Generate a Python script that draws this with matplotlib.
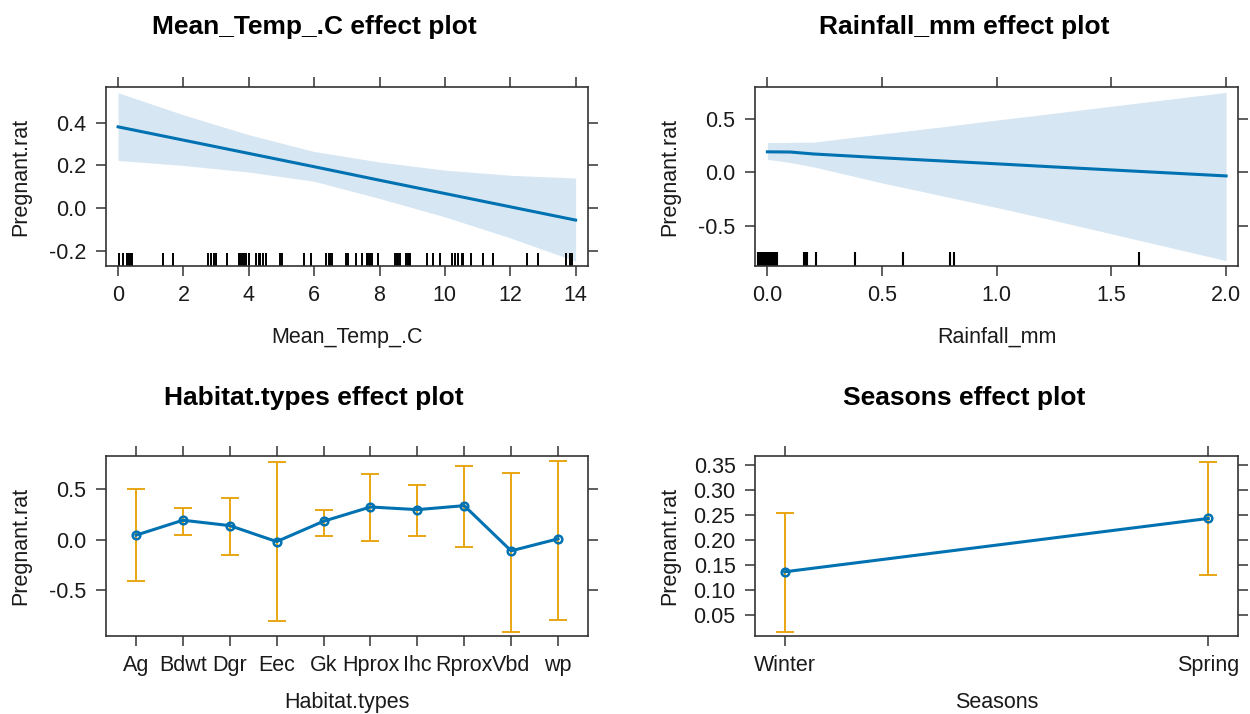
import matplotlib
matplotlib.use("Agg")
import matplotlib.pyplot as plt
import numpy as np

plt.rcParams['font.family'] = ['Liberation Sans', 'DejaVu Sans']

# Mean_Temp_.C effect
temp_x = [0, 2, 4, 6, 8, 10, 12, 14]
temp_fit = [0.380, 0.318, 0.256, 0.194, 0.131, 0.069, 0.007, -0.055]
temp_upper = [0.539, 0.436, 0.343, 0.265, 0.216, 0.178, 0.154, 0.141]
temp_lower = [0.223, 0.200, 0.169, 0.126, 0.046, -0.040, -0.138, -0.246]
temp_rug = [0.02, 0.15, 0.28, 0.33, 0.38, 0.43, 1.37, 1.68, 2.74, 2.85, 2.92, 3.0,
            3.33, 3.69, 3.74, 3.79, 3.84, 3.91, 4.02, 4.23, 4.30, 4.35, 4.43, 4.53,
            4.94, 5.01, 5.70, 5.90, 6.37, 6.44, 6.49, 6.56, 6.98, 7.05, 7.29, 7.46,
            7.61, 7.66, 7.71, 7.76, 7.94, 8.48, 8.53, 8.58, 8.63, 8.81, 8.86, 8.90,
            8.94, 9.45, 9.65, 9.85, 10.21, 10.31, 10.41, 10.52, 10.57, 10.79, 11.16,
            11.48, 12.50, 12.86, 13.72, 13.83, 13.88]

# Rainfall_mm effect
rain_x = [0, 0.1, 0.2, 0.5, 0.75, 1.0, 1.25, 1.5, 1.75, 2.0]
rain_fit = [0.190, 0.188, 0.170, 0.134, 0.106, 0.078, 0.049, 0.021, -0.007, -0.035]
rain_upper = [0.277, 0.278, 0.280, 0.357, 0.420, 0.486, 0.550, 0.615, 0.680, 0.744]
rain_lower = [0.120, 0.090, 0.050, -0.100, -0.215, -0.330, -0.450, -0.575, -0.700, -0.825]
rain_rug = [-0.04, -0.036, -0.032, -0.028, -0.024, -0.02, -0.016, -0.012, -0.008,
            -0.004, 0.0, 0.004, 0.008, 0.012, 0.016, 0.02, 0.024, 0.028, 0.032,
            0.036, 0.04, 0.158, 0.163, 0.168, 0.173, 0.21, 0.381, 0.59, 0.796,
            0.814, 1.62]

# Habitat.types effect
habitats = ['Ag', 'Bdwt', 'Dgr', 'Eec', 'Gk', 'Hprox', 'Ihc', 'Rprox', 'Vbd', 'wp']
hab_fit = [0.043, 0.190, 0.137, -0.020, 0.180, 0.320, 0.294, 0.333, -0.111, 0.007]
hab_upper = [0.493, 0.310, 0.405, 0.758, 0.288, 0.644, 0.539, 0.722, 0.654, 0.771]
hab_lower = [-0.408, 0.049, -0.147, -0.804, 0.036, -0.013, 0.036, -0.069, -0.908, -0.791]

# Seasons effect
seasons = ['Winter', 'Spring']
sea_fit = [0.136, 0.243]
sea_upper = [0.253, 0.356]
sea_lower = [0.015, 0.129]

blue = '#0072B2'
band = '#D6E6F3'
orange = '#E69F00'
frame = '#333333'
fs = 15.5


def style(ax):
    for s in ax.spines.values():
        s.set_color(frame)
        s.set_linewidth(1.2)
    ax.tick_params(direction='out', length=7, width=1.1, color=frame,
                   top=True, right=True, labeltop=False, labelright=False,
                   labelsize=fs, pad=7, labelcolor='#1a1a1a')
    ax.set_ylabel('Pregnant.rat', fontsize=fs, color='#1a1a1a')
    ax.yaxis.set_label_coords(-0.155, 0.5)


fig = plt.figure(figsize=(12.5, 7.14), dpi=100)
ax1 = fig.add_axes([0.0848, 0.6275, 0.3856, 0.2507])
ax2 = fig.add_axes([0.604, 0.6275, 0.3864, 0.2507])
ax3 = fig.add_axes([0.0848, 0.1092, 0.3856, 0.252])
ax4 = fig.add_axes([0.604, 0.1092, 0.3864, 0.252])

# panel 1
ax1.fill_between(temp_x, temp_lower, temp_upper, color=band, lw=0)
ax1.plot(temp_x, temp_fit, color=blue, lw=2.2)
ax1.vlines(temp_rug, 0, 0.075, color='black', lw=1.4, transform=ax1.get_xaxis_transform())
ax1.set_xlim(-0.37, 14.38)
ax1.set_ylim(-0.269, 0.566)
ax1.set_xticks(range(0, 15, 2))
ax1.set_yticks([-0.2, 0.0, 0.2, 0.4])
ax1.set_yticklabels(['-0.2', '0.0', '0.2', '0.4'])
style(ax1)
ax1.set_xlabel('Mean_Temp_.C', fontsize=fs, color='#1a1a1a')

# panel 2
ax2.fill_between(rain_x, rain_lower, rain_upper, color=band, lw=0)
ax2.plot(rain_x, rain_fit, color=blue, lw=2.2)
ax2.vlines(rain_rug, 0, 0.077, color='black', lw=1.5, transform=ax2.get_xaxis_transform())
ax2.set_xlim(-0.054, 2.052)
ax2.set_ylim(-0.875, 0.795)
ax2.set_xticks([0, 0.5, 1.0, 1.5, 2.0])
ax2.set_xticklabels(['0.0', '0.5', '1.0', '1.5', '2.0'])
ax2.set_yticks([-0.5, 0.0, 0.5])
ax2.set_yticklabels(['-0.5', '0.0', '0.5'])
style(ax2)
ax2.set_xlabel('Rainfall_mm', fontsize=fs, color='#1a1a1a')

# panel 3
hx = np.arange(len(habitats))
ax3.errorbar(hx, hab_fit,
             yerr=[np.array(hab_fit) - np.array(hab_lower), np.array(hab_upper) - np.array(hab_fit)],
             fmt='none', ecolor=orange, elinewidth=1.3, capsize=6.5, capthick=1.3)
ax3.plot(hx, hab_fit, color=blue, lw=2.2, marker='o', ms=5.5, mfc='none', mew=1.8)
ax3.set_xlim(-0.64, 9.64)
ax3.set_ylim(-0.948, 0.82)
ax3.set_xticks(hx)
ax3.set_xticklabels(habitats)
ax3.set_yticks([-0.5, 0.0, 0.5])
ax3.set_yticklabels(['-0.5', '0.0', '0.5'])
style(ax3)
ax3.set_xlabel('Habitat.types', fontsize=fs, color='#1a1a1a')

# panel 4
sx = np.arange(len(seasons))
ax4.errorbar(sx, sea_fit,
             yerr=[np.array(sea_fit) - np.array(sea_lower), np.array(sea_upper) - np.array(sea_fit)],
             fmt='none', ecolor=orange, elinewidth=1.3, capsize=6.5, capthick=1.3)
ax4.plot(sx, sea_fit, color=blue, lw=2.2, marker='o', ms=5.5, mfc='none', mew=1.8)
ax4.set_xlim(-0.07, 1.07)
ax4.set_ylim(0.0072, 0.368)
ax4.set_xticks(sx)
ax4.set_xticklabels(seasons)
yt = [0.05, 0.10, 0.15, 0.20, 0.25, 0.30, 0.35]
ax4.set_yticks(yt)
ax4.set_yticklabels(['%.2f' % v for v in yt])
style(ax4)
ax4.set_xlabel('Seasons', fontsize=fs, color='#1a1a1a')

for ax in (ax1, ax2):
    ax.xaxis.set_label_coords(0.5, -0.397)
    ax.xaxis.label.set_va('center')
for ax in (ax3, ax4):
    ax.xaxis.set_label_coords(0.5, -0.372)
    ax.xaxis.label.set_va('center')

# titles
title_kw = dict(fontsize=19, fontweight='bold', ha='center', va='center', color='black')
fig.text(314 / 1250, 1 - 27 / 714, 'Mean_Temp_.C effect plot', **title_kw)
fig.text(964 / 1250, 1 - 27 / 714, 'Rainfall_mm effect plot', **title_kw)
fig.text(314 / 1250, 1 - 398 / 714, 'Habitat.types effect plot', **title_kw)
fig.text(964 / 1250, 1 - 398 / 714, 'Seasons effect plot', **title_kw)

fig.savefig('out.png', dpi=100)
